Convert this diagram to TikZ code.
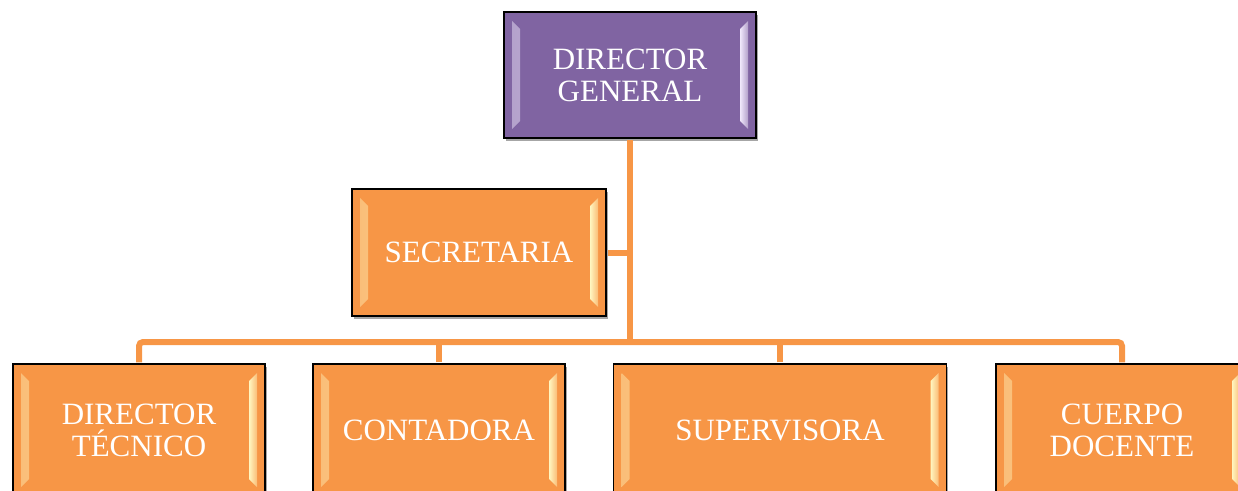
\documentclass[tikz,border=0pt]{standalone}
\usepackage{fontspec}
\setmainfont{Liberation Serif}
\usetikzlibrary{shadows}
\definecolor{orgfill}{HTML}{F79646}
\definecolor{purfill}{HTML}{8064A2}
\definecolor{linecol}{HTML}{F79646}
\definecolor{orglight}{HTML}{FFF6C0}
\definecolor{purlight}{HTML}{F0E8FB}
\tikzset{
  bev/.style 2 args={path picture={
    \fill[left color=#1, right color=#2]
      ([shift={(8pt,-9pt)}]path picture bounding box.north west) --
      ([shift={(16pt,-17pt)}]path picture bounding box.north west) --
      ([shift={(16pt,17pt)}]path picture bounding box.south west) --
      ([shift={(8pt,9pt)}]path picture bounding box.south west) -- cycle;
    \fill[left color=#2, right color=#1]
      ([shift={(-8pt,-9pt)}]path picture bounding box.north east) --
      ([shift={(-16pt,-17pt)}]path picture bounding box.north east) --
      ([shift={(-16pt,17pt)}]path picture bounding box.south east) --
      ([shift={(-8pt,9pt)}]path picture bounding box.south east) -- cycle;
  }},
  box/.style={draw=black, line width=1.6pt, align=center, text=white,
    inner sep=0pt, font=\fontsize{31}{32}\selectfont,
    drop shadow={shadow xshift=1.5pt, shadow yshift=-3pt, fill=black, opacity=0.35}},
  orgbox/.style={box, fill=orgfill, bev={orgfill!60!orglight}{orglight}},
  purbox/.style={box, fill=purfill, bev={purfill!55!purlight}{purlight}},
  conn/.style={draw=linecol, line width=6pt}
}
\begin{document}
\begin{tikzpicture}[x=1pt, y=-1pt]
\path[use as bounding box, clip] (0,0) rectangle (1238,490);
\node[purbox, minimum width=252pt, minimum height=126pt] (dg) at (630,75) {DIRECTOR\\GENERAL};
\node[orgbox, minimum width=254pt, minimum height=127pt] (sec) at (479,252.5) {SECRETARIA};
\node[orgbox, minimum width=252pt, minimum height=132pt] (dt) at (139,430) {DIRECTOR\\TÉCNICO};
\node[orgbox, minimum width=252pt, minimum height=132pt] (cont) at (439,430) {CONTADORA};
\node[orgbox, minimum width=333pt, minimum height=132pt] (sup) at (780,430) {SUPERVISORA};
\node[orgbox, minimum width=252pt, minimum height=132pt] (cd) at (1122,430) {CUERPO\\DOCENTE};
\coordinate (bus) at (630,342);
\draw[conn, shorten <=0.8pt] (dg.south) -- ([yshift=-3pt]bus);
\draw[conn, shorten <=0.8pt] (sec.east) -- (sec.east -| dg.south);
\draw[conn, rounded corners=4pt, shorten <=0.8pt, shorten >=0.8pt] (dt.north) |- (bus) -| (cd.north);
\draw[conn, shorten <=0.8pt] (cont.north) -- (cont.north |- bus);
\draw[conn, shorten <=0.8pt] (sup.north) -- (sup.north |- bus);
\end{tikzpicture}
\end{document}
